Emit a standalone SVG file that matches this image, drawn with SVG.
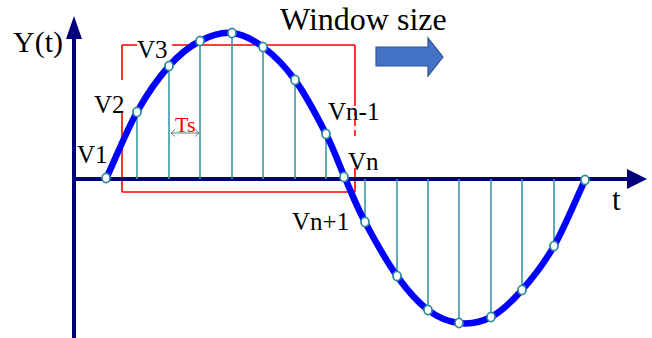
<svg xmlns="http://www.w3.org/2000/svg" width="652" height="338" viewBox="0 0 652 338">
<style>
.lbl{font-family:"Liberation Serif","Times New Roman",serif;fill:#000}
.stem{stroke:#3f97a8;stroke-width:1.6;fill:none}
.pt{fill:#fff;stroke:#2e8c9c;stroke-width:1.8}
.axis{stroke:#00007a;stroke-width:4;fill:none}
.win{stroke:#ff0000;stroke-width:1.6;fill:none}
</style>
<rect width="652" height="338" fill="#fff"/>
<g id="window">
<path class="win" d="M122,45V80M122,113V192M122,45H137M172,45H355M355,45V100M355,168V192M122,192H355"/>
<path class="win" d="M355,100V140" stroke-dasharray="6,4"/>
</g>
<g id="axes">
<path class="axis" d="M74,36V338M74,179H630"/>
<polygon points="74,16 82,39 66,39" fill="#00007a"/>
<polygon points="647,179 627,169 627,189" fill="#00007a"/>
</g>
<g id="stems">
<path class="stem" d="M137,179V112M169,179V66M200,179V41M232,179V33M263,179V47M295,179V80M326,179V134M365,179V222M397,179V276M428,179V310M459,179V323M491,179V317M522,179V290M554,179V246"/>
</g>
<g id="curve">
<path d="M106,179C116.3,156.7 126.5,130.8 137,112C147.5,93.2 158.5,77.8 169,66C179.5,54.2 189.5,46.5 200,41C210.5,35.5 221.5,32 232,33C242.5,34 252.5,39.2 263,47C273.5,54.8 284.5,65.5 295,80C305.5,94.5 317.7,117.7 326,134C334.3,150.3 338.5,163.3 345,178C351.5,192.7 356.3,205.7 365,222C373.7,238.3 386.5,261.3 397,276C407.5,290.7 417.7,302.2 428,310C438.3,317.8 448.5,321.8 459,323C469.5,324.2 480.5,322.5 491,317C501.5,311.5 511.5,301.8 522,290C532.5,278.2 543.5,264.3 554,246C564.5,227.7 574.7,202 585,180" fill="none" stroke="#0000ff" stroke-width="6.5" stroke-linecap="round" stroke-linejoin="round"/>
</g>
<g id="points">
<ellipse class="pt" cx="106" cy="178" rx="4" ry="4.6"/>
<ellipse class="pt" cx="137" cy="112" rx="4" ry="4.6"/>
<ellipse class="pt" cx="169" cy="66" rx="4" ry="4.6"/>
<ellipse class="pt" cx="200" cy="41" rx="4" ry="4.6"/>
<ellipse class="pt" cx="232" cy="33" rx="4" ry="4.6"/>
<ellipse class="pt" cx="263" cy="47" rx="4" ry="4.6"/>
<ellipse class="pt" cx="295" cy="80" rx="4" ry="4.6"/>
<ellipse class="pt" cx="326" cy="134" rx="4" ry="4.6"/>
<ellipse class="pt" cx="344" cy="177" rx="4" ry="4.6"/>
<ellipse class="pt" cx="365" cy="222" rx="4" ry="4.6"/>
<ellipse class="pt" cx="397" cy="276" rx="4" ry="4.6"/>
<ellipse class="pt" cx="428" cy="310" rx="4" ry="4.6"/>
<ellipse class="pt" cx="459" cy="323" rx="4" ry="4.6"/>
<ellipse class="pt" cx="491" cy="317" rx="4" ry="4.6"/>
<ellipse class="pt" cx="522" cy="290" rx="4" ry="4.6"/>
<ellipse class="pt" cx="554" cy="246" rx="4" ry="4.6"/>
<ellipse class="pt" cx="585" cy="180" rx="4" ry="4.6"/>
</g>
<g id="ts">
<path d="M171,133H199M175,129.5L171,133L175,136.5M195,129.5L199,133L195,136.5" stroke="#777" stroke-width="1" fill="none"/>
<text x="175" y="132" font-family="Liberation Serif, serif" font-size="22" fill="#ff0000">Ts</text>
</g>
<g id="move-arrow">
<polygon points="376,47 428,47 428,38 443,57 428,76 428,66 376,66" fill="#4472c4" stroke="#2f528f" stroke-width="1.2"/>
</g>
<g id="labels">
<text class="lbl" x="13" y="52" font-size="30">Y(t)</text>
<text class="lbl" x="280" y="30" font-size="32">Window size</text>
<text class="lbl" x="77" y="163" font-size="25">V1</text>
<text class="lbl" x="94" y="113" font-size="25">V2</text>
<text class="lbl" x="137" y="58" font-size="25">V3</text>
<text class="lbl" x="328" y="120" font-size="25">Vn-1</text>
<text class="lbl" x="348" y="170" font-size="25">Vn</text>
<text class="lbl" x="292" y="230" font-size="25">Vn+1</text>
<text class="lbl" x="612" y="210" font-size="31">t</text>
</g>
</svg>
